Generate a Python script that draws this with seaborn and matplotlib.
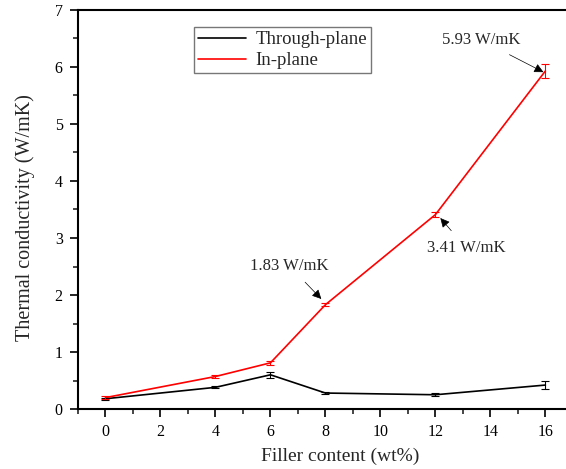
import numpy as np
import pandas as pd
import matplotlib
matplotlib.use("Agg")
import matplotlib.pyplot as plt
import seaborn as sns
from matplotlib.ticker import MultipleLocator

filler = [0, 4, 6, 8, 12, 16]
through_plane = [0.18, 0.38, 0.60, 0.28, 0.25, 0.42]
through_err = [0.02, 0.02, 0.05, 0.02, 0.03, 0.07]
in_plane = [0.20, 0.57, 0.81, 1.83, 3.41, 5.93]
in_err = [0.02, 0.02, 0.04, 0.03, 0.05, 0.12]
series_names = ["Through-plane", "In-plane"]
annotations = ["1.83 W/mK", "3.41 W/mK", "5.93 W/mK"]

sns.set_theme(style="ticks")
plt.rcParams["font.family"] = ["Liberation Serif", "DejaVu Serif"]

df = pd.DataFrame({
    "Filler": filler * 2,
    "TC": through_plane + in_plane,
    "Series": [series_names[0]] * len(filler) + [series_names[1]] * len(filler),
})

fig = plt.figure(figsize=(5.66, 4.69), dpi=100)
ax = fig.add_axes([78 / 566, 1 - 409 / 469, 1 - 78 / 566, (409 - 10) / 469])

palette = {series_names[0]: "black", series_names[1]: "red"}
sns.lineplot(data=df, x="Filler", y="TC", hue="Series", palette=palette,
             linewidth=1.2, ax=ax, legend=True)
ax.errorbar(filler, through_plane, yerr=through_err, fmt="none", ecolor="black",
            elinewidth=0.8, capsize=3, capthick=0.8)
ax.errorbar(filler, in_plane, yerr=in_err, fmt="none", ecolor="red",
            elinewidth=0.8, capsize=3, capthick=0.8)

ax.set_xlim(-1, 16.75)
ax.set_ylim(0, 7)
ax.xaxis.set_major_locator(MultipleLocator(2))
ax.xaxis.set_minor_locator(MultipleLocator(1))
ax.yaxis.set_major_locator(MultipleLocator(1))
ax.yaxis.set_minor_locator(MultipleLocator(0.5))
ax.tick_params(which="major", direction="out", length=6, width=1.2, labelsize=11.5,
               colors="black", pad=5)
ax.tick_params(which="minor", direction="out", length=3.5, width=1.2)
ax.tick_params(top=False, right=False, which="both")
for s in ["left", "bottom", "top"]:
    ax.spines[s].set_linewidth(1.5)
    ax.spines[s].set_color("black")
ax.spines["right"].set_visible(False)

ax.set_xlabel("Filler content (wt%)", fontsize=14, labelpad=5)
ax.set_ylabel("Thermal conductivity (W/mK)", fontsize=14.5, labelpad=14)
ax.xaxis.label.set_x(0.537)
ax.yaxis.label.set_y(0.48)

leg = ax.legend(loc="upper left", bbox_to_anchor=(0.218, 0.98), fontsize=13.5,
                frameon=True, fancybox=False, edgecolor="#555555",
                handlelength=2.6, borderpad=0.2, labelspacing=0.2, handletextpad=0.5)
leg.get_frame().set_linewidth(1.0)
leg.set_title(None)

arrow = dict(arrowstyle="-|>", color="black", lw=0.5, mutation_scale=14)
ax.annotate(annotations[0], xy=(7.85, 1.93), xytext=(6.69, 2.51), fontsize=12,
            ha="center", va="center", arrowprops=dict(arrow, shrinkA=5, shrinkB=0))
ax.annotate(annotations[1], xy=(12.18, 3.35), xytext=(13.13, 2.82), fontsize=12,
            ha="center", va="center", arrowprops=dict(arrow, shrinkA=6, shrinkB=0))
ax.annotate(annotations[2], xy=(15.93, 5.91), xytext=(13.67, 6.47), fontsize=12,
            ha="center", va="center", arrowprops=dict(arrow, shrinkA=5, shrinkB=0))

fig.savefig("out.png", dpi=100)
